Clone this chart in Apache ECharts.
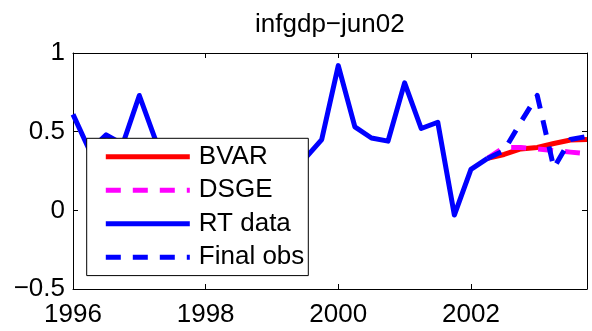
<!DOCTYPE html>
<html>
<head>
<meta charset="utf-8">
<script src="https://cdn.jsdelivr.net/npm/echarts@6/dist/echarts.min.js"></script>
<style>
  html, body { margin: 0; padding: 0; background: #ffffff; }
  #chart { width: 592px; height: 331px; }
</style>
</head>
<body>
<div id="chart"></div>
<script>
// Real-time inflation data (quarterly, year + fraction of year)
const rtQuarters = [
  1996.00, 1996.25, 1996.50, 1996.75,
  1997.00, 1997.25, 1997.50, 1997.75,
  1998.00, 1998.25, 1998.50, 1998.75,
  1999.00, 1999.25, 1999.50, 1999.75,
  2000.00, 2000.25, 2000.50, 2000.75,
  2001.00, 2001.25, 2001.50, 2001.75,
  2002.00, 2002.25
];
const rtValues = [
  0.61, 0.38, 0.48, 0.42,
  0.73, 0.44, 0.36, 0.30,
  0.27, 0.31, 0.24, 0.28,
  0.26, 0.36, 0.33, 0.45,
  0.92, 0.53, 0.46, 0.44,
  0.81, 0.52, 0.56, -0.03,
  0.26, 0.33
];

// Forecast horizon
const forecastQuarters = [2002.25, 2002.50, 2002.75, 2003.00, 2003.25, 2003.50, 2003.75];
const bvarValues     = [0.33, 0.355, 0.39, 0.40, 0.425, 0.447, 0.45];
const dsgeValues     = [0.33, 0.40, 0.40, 0.39, 0.38, 0.37, 0.36];
const finalObsValues = [0.33, 0.38, 0.56, 0.73, 0.27, 0.45, 0.47];

// Axis ranges and tick spacing
const xMin = 1996, xMax = 2003.75, xStep = 2;
const yMin = -0.5, yMax = 1, yStep = 0.5;

const seriesNames = ['BVAR', 'DSGE', 'RT data', 'Final obs'];
const chartTitle = 'infgdp\u2212jun02';

const FONT = '"Liberation Sans", Arial, Helvetica, sans-serif';
const pairs = (xs, ys) => xs.map((x, i) => [x, ys[i]]);
const minusSign = v => String(v).replace('-', '\u2212');

const axisLine = { show: true, onZero: false, lineStyle: { color: '#000', width: 1 } };
const axisTick = { show: true, inside: true, length: 5, lineStyle: { color: '#000', width: 1 } };

function lineSeries(name, data, color, dashed) {
  return {
    name: name,
    type: 'line',
    data: data,
    symbol: 'none',
    showSymbol: false,
    smooth: false,
    color: color,
    lineStyle: { color: color, width: 5, type: dashed ? [15, 12] : 'solid', cap: 'butt', join: 'round' },
    emphasis: { disabled: true },
    z: 2
  };
}

const chart = echarts.init(document.getElementById('chart'), null, { renderer: 'canvas' });
chart.setOption({
  animation: false,
  backgroundColor: '#ffffff',
  title: {
    text: chartTitle,
    left: 255,
    top: 12,
    padding: 0,
    textStyle: { fontFamily: FONT, fontSize: 26, fontWeight: 'normal', color: '#000', lineHeight: 26 }
  },
  grid: { left: 73, right: 5, top: 53, bottom: 42, outerBoundsMode: 'none', containLabel: false },
  xAxis: [
    {
      type: 'value', min: xMin, max: xMax, interval: xStep, position: 'bottom',
      axisLine: axisLine, axisTick: axisTick, splitLine: { show: false },
      axisLabel: { show: true, fontFamily: FONT, fontSize: 26, color: '#000', margin: 13,
                   showMaxLabel: false, hideOverlap: false, formatter: v => String(v) }
    },
    {
      type: 'value', min: xMin, max: xMax, interval: xStep, position: 'top',
      axisLine: axisLine, axisTick: axisTick, splitLine: { show: false },
      axisLabel: { show: false }
    }
  ],
  yAxis: [
    {
      type: 'value', min: yMin, max: yMax, interval: yStep, position: 'left',
      axisLine: axisLine, axisTick: axisTick, splitLine: { show: false },
      axisLabel: { show: true, fontFamily: FONT, fontSize: 26, color: '#000', margin: 8,
                   hideOverlap: false, formatter: v => minusSign(v) }
    },
    {
      type: 'value', min: yMin, max: yMax, interval: yStep, position: 'right',
      axisLine: axisLine, axisTick: axisTick, splitLine: { show: false },
      axisLabel: { show: false }
    }
  ],
  legend: {
    data: seriesNames,
    orient: 'vertical',
    left: 86.7,
    top: 138.3,
    itemWidth: 84,
    itemHeight: 10,
    itemGap: 7.5,
    padding: [5.4, 4, 5.4, 16.6],
    backgroundColor: '#ffffff',
    borderColor: '#000',
    borderWidth: 1,
    borderRadius: 0,
    selectedMode: false,
    itemStyle: { opacity: 0, borderWidth: 0 },
    lineStyle: { width: 5, opacity: 1 },
    textStyle: { fontFamily: FONT, fontSize: 26, color: '#000', lineHeight: 26, padding: [0, 0, 0, 4] },
    z: 10
  },
  series: [
    lineSeries('BVAR', pairs(forecastQuarters, bvarValues), '#ff0000', false),
    lineSeries('DSGE', pairs(forecastQuarters, dsgeValues), '#ff00ff', true),
    lineSeries('RT data', pairs(rtQuarters, rtValues), '#0000ff', false),
    lineSeries('Final obs', pairs(forecastQuarters, finalObsValues), '#0000ff', true)
  ]
});
</script>
</body>
</html>
